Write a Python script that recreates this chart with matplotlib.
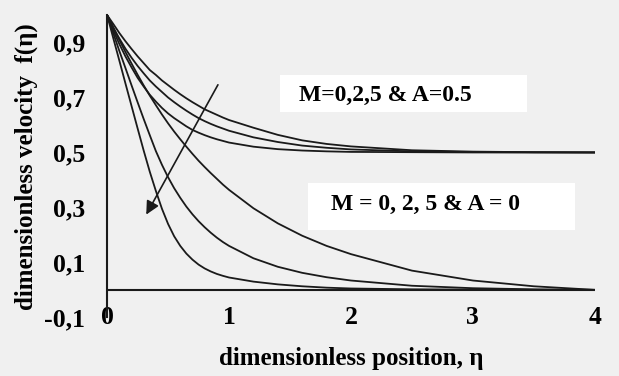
import numpy as np
import matplotlib
matplotlib.use('Agg')
import matplotlib.pyplot as plt
from matplotlib.patches import Rectangle
from matplotlib.ticker import FuncFormatter

plt.rcParams['font.family'] = ['Liberation Serif', 'DejaVu Serif']
plt.rcParams['font.weight'] = 'bold'

# values
eta = [0, 0.05, 0.1, 0.15, 0.2, 0.25, 0.3, 0.35, 0.4, 0.45, 0.5,
       0.55, 0.6, 0.65, 0.7, 0.75, 0.8, 0.85, 0.9, 0.95, 1.0,
       1.2, 1.4, 1.6, 1.8, 2.0, 2.5, 3.0, 3.5, 4.0]

# A = 0
f_A0_M0 = [1, 0.955, 0.91, 0.866, 0.824, 0.783, 0.744, 0.707, 0.672, 0.638, 0.606,
           0.576, 0.548, 0.521, 0.495, 0.47, 0.447, 0.425, 0.404, 0.383, 0.364,
           0.297, 0.242, 0.197, 0.16, 0.13, 0.07, 0.034, 0.013, 0.0]
f_A0_M2 = [1, 0.935, 0.87, 0.808, 0.745, 0.683, 0.622, 0.563, 0.505, 0.455, 0.41,
           0.37, 0.335, 0.303, 0.275, 0.25, 0.228, 0.208, 0.19, 0.174, 0.16,
           0.115, 0.084, 0.062, 0.046, 0.034, 0.015, 0.006, 0.002, 0.0]
f_A0_M5 = [1, 0.917, 0.835, 0.752, 0.67, 0.588, 0.507, 0.43, 0.36, 0.295, 0.24,
           0.195, 0.16, 0.132, 0.11, 0.092, 0.078, 0.067, 0.058, 0.051, 0.045,
           0.03, 0.02, 0.013, 0.008, 0.005, 0.002, 0.001, 0.0, 0.0]

# A = 0.5
f_A5_M0 = [1, 0.968, 0.935, 0.905, 0.877, 0.85, 0.825, 0.80, 0.782, 0.762, 0.745,
           0.728, 0.712, 0.697, 0.683, 0.67, 0.657, 0.647, 0.637, 0.627, 0.618,
           0.59, 0.564, 0.544, 0.531, 0.522, 0.508, 0.503, 0.501, 0.5]
f_A5_M2 = [1, 0.955, 0.915, 0.878, 0.845, 0.815, 0.788, 0.762, 0.74, 0.72, 0.70,
           0.683, 0.667, 0.652, 0.638, 0.625, 0.614, 0.604, 0.595, 0.587, 0.579,
           0.555, 0.538, 0.525, 0.517, 0.511, 0.504, 0.5015, 0.5005, 0.5]
f_A5_M5 = [1, 0.945, 0.895, 0.85, 0.81, 0.772, 0.74, 0.71, 0.685, 0.662, 0.642,
           0.625, 0.61, 0.595, 0.582, 0.572, 0.563, 0.555, 0.548, 0.542, 0.536,
           0.521, 0.512, 0.507, 0.504, 0.502, 0.501, 0.5, 0.5, 0.5]

yticks = [-0.1, 0.1, 0.3, 0.5, 0.7, 0.9]
xticks = [0, 1, 2, 3, 4]

bg = '#f0f0f0'
fig = plt.figure(figsize=(6.19, 3.76), dpi=100, facecolor=bg)
ax = fig.add_axes([0.173, 0.156, 0.788, 0.804], facecolor=bg)

for f in [f_A0_M0, f_A0_M2, f_A0_M5, f_A5_M0, f_A5_M2, f_A5_M5]:
    ax.plot(eta, f, color='#1a1a1a', lw=1.3)

# zero line
ax.plot([0, 4], [0, 0], color='#1a1a1a', lw=1.5)

# arrow showing increasing M
ax.annotate('', xy=(0.31, 0.265), xytext=(0.92, 0.755),
            arrowprops=dict(arrowstyle='-|>', color='#1a1a1a', lw=1.2,
                            mutation_scale=20))

# label boxes
ax.add_patch(Rectangle((1.42, 0.647), 2.02, 0.135, facecolor='white', edgecolor='none', zorder=1))
ax.add_patch(Rectangle((1.65, 0.218), 2.19, 0.171, facecolor='white', edgecolor='none', zorder=1))
ax.text(2.28, 0.709, 'M=0,2,5 & A=0.5', ha='center', va='center', fontsize=17, fontweight='bold', zorder=2)
ax.text(2.61, 0.309, 'M = 0, 2, 5 & A = 0', ha='center', va='center', fontsize=17, fontweight='bold', zorder=2)

ax.set_xlim(0, 4)
ax.set_ylim(-0.1, 1.0)
ax.set_xticks(xticks)
ax.set_yticks(yticks)
ax.yaxis.set_major_formatter(FuncFormatter(lambda v, p: ('%.1f' % v).replace('.', ',')))
ax.tick_params(axis='both', length=0, labelsize=18.5)
ax.tick_params(axis='x', pad=-8)
ax.tick_params(axis='y', pad=16)
for lab in ax.get_xticklabels() + ax.get_yticklabels():
    lab.set_fontweight('bold')

for s in ['top', 'right', 'bottom']:
    ax.spines[s].set_visible(False)
ax.spines['left'].set_linewidth(1.5)
ax.spines['left'].set_color('#1a1a1a')

ax.set_xlabel('dimensionless position, η', fontsize=18, fontweight='bold', labelpad=13)
ax.set_ylabel('dimensionless velocity  f(η)', fontsize=18, fontweight='bold', labelpad=4)

fig.savefig('out.png', dpi=100, facecolor=bg)
